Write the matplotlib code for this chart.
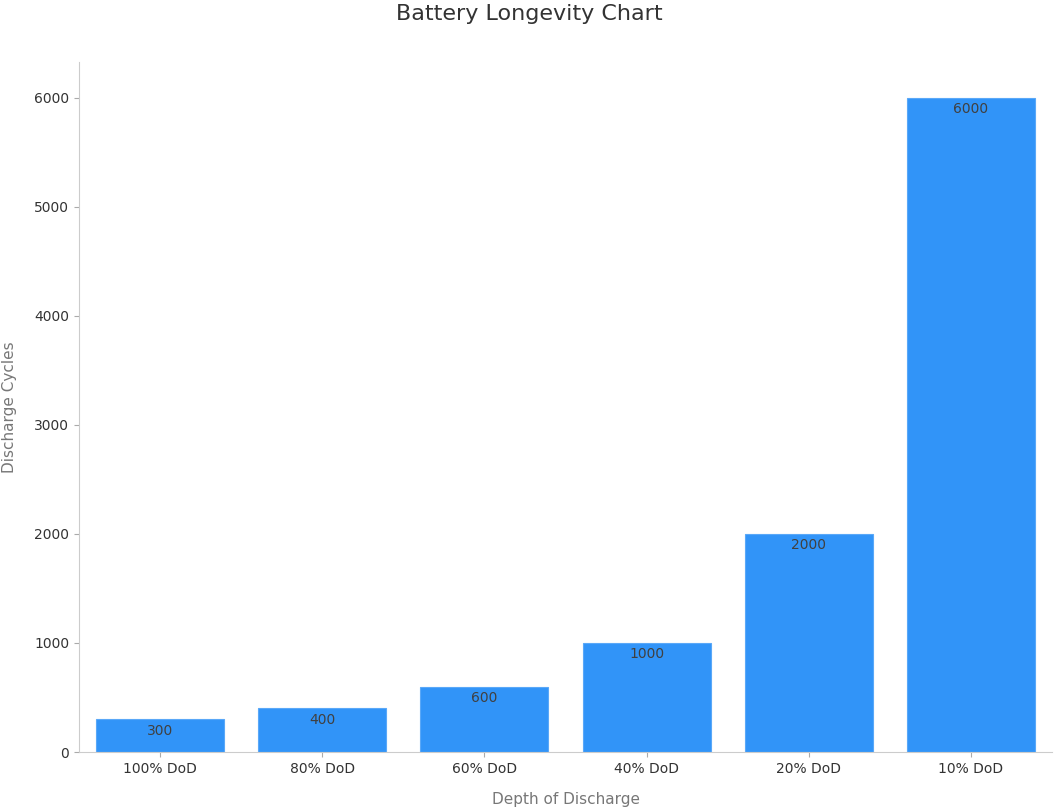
import matplotlib
matplotlib.use("Agg")
import matplotlib.pyplot as plt

categories = ["100% DoD", "80% DoD", "60% DoD", "40% DoD", "20% DoD", "10% DoD"]
cycles = [300, 400, 600, 1000, 2000, 6000]

fig = plt.figure(figsize=(10.59, 8.10), dpi=100)
ax = fig.add_axes([79/1059, 1-752/810, (1052-79)/1059, (752-62)/810])
bars = ax.bar(range(len(categories)), cycles, width=0.79, color="#3194f8", edgecolor="#5aa8f8", linewidth=0.8)
for i, v in enumerate(cycles):
    ax.text(i, v - 40, str(v), ha="center", va="top", fontsize=10, color="#404040")
ax.set_xlim(-0.5, 5.5)
ax.set_ylim(0, 6330)
ax.set_xticks(range(len(categories)))
ax.set_xticklabels(categories, fontsize=10, color="#333333")
ax.set_yticks([0, 1000, 2000, 3000, 4000, 5000, 6000])
ax.tick_params(axis="y", labelsize=10, labelcolor="#333333", color="#aaaaaa")
ax.tick_params(axis="x", color="#aaaaaa")
for s in ["top", "right"]:
    ax.spines[s].set_visible(False)
for s in ["left", "bottom"]:
    ax.spines[s].set_color("#cccccc")
ax.set_xlabel("Depth of Discharge", fontsize=11, color="#777777", labelpad=12)
ax.set_ylabel("Discharge Cycles", fontsize=11, color="#777777", labelpad=12)
fig.suptitle("Battery Longevity Chart", fontsize=16, color="#333333", y=0.995)
fig.savefig("out.png", dpi=100)
